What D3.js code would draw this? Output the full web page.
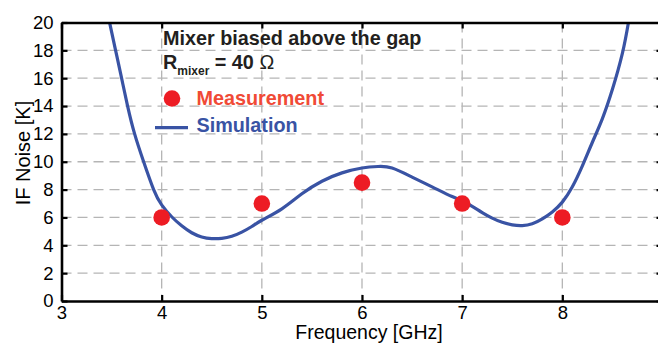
<!DOCTYPE html>
<html>
<head>
<meta charset="utf-8">
<script src="https://cdn.jsdelivr.net/npm/d3@7"></script>
<style>
  html, body { margin: 0; padding: 0; background: #fff; }
  svg { display: block; font-family: Arial, "Liberation Sans", Helvetica, sans-serif; }
</style>
</head>
<body>
<svg id="chart" width="658" height="346"></svg>
<script>
// ---- data ----
const xTicks = [3, 4, 5, 6, 7, 8, 9];
const yTicks = [0, 2, 4, 6, 8, 10, 12, 14, 16, 18, 20];
const measFreq = [4, 5, 6, 7, 8];
const measNoise = [6, 7, 8.5, 7, 6];
const simFreq = [3.48, 3.54, 3.60, 3.66, 3.73, 3.82, 3.92, 4.00, 4.10, 4.20, 4.30, 4.40, 4.50, 4.60, 4.70, 4.80, 4.90, 5.00, 5.20, 5.40, 5.60, 5.80, 6.00, 6.16, 6.30, 6.50, 6.70, 6.90, 7.00, 7.10, 7.20, 7.30, 7.40, 7.50, 7.60, 7.70, 7.80, 7.90, 8.00, 8.10, 8.20, 8.30, 8.40, 8.50, 8.60, 8.66];
const simNoise = [20, 18, 16, 14, 12, 10, 8, 6.9, 6.05, 5.4, 4.9, 4.6, 4.48, 4.5, 4.65, 4.95, 5.35, 5.8, 6.62, 7.7, 8.6, 9.2, 9.55, 9.66, 9.55, 8.9, 8.2, 7.5, 7.2, 6.8, 6.35, 5.95, 5.65, 5.47, 5.42, 5.55, 5.9, 6.4, 7.1, 8.2, 9.7, 11.4, 13.1, 15.2, 17.8, 20];
const titleText = "Mixer biased above the gap";
const xLabel = "Frequency [GHz]";
const yLabel = "IF Noise [K]";
const legendMeas = "Measurement";
const legendSim = "Simulation";

// ---- layout ----
const svg = d3.select("#chart");
const x = d3.scaleLinear().domain([3, 9]).range([61.5, 662.5]);
const y = d3.scaleLinear().domain([0, 20]).range([301, 22.5]);
const blue = "#3953a4", red = "#ed1c24";

// grid
const grid = svg.append("g").attr("stroke", "#b5b5b5").attr("stroke-width", 1.3).attr("stroke-dasharray", "10,6");
grid.selectAll("line.v").data(xTicks.filter(d => d > 3 && d < 9)).join("line")
  .attr("x1", d => x(d)).attr("x2", d => x(d)).attr("y1", y(20)).attr("y2", y(0));
grid.selectAll("line.h").data(yTicks.filter(d => d > 0 && d < 20)).join("line")
  .attr("x1", x(3)).attr("x2", x(9)).attr("y1", d => y(d)).attr("y2", d => y(d));

// clip
svg.append("clipPath").attr("id", "clip").append("rect")
  .attr("x", x(3)).attr("y", y(20)).attr("width", x(9) - x(3)).attr("height", y(0) - y(20));

// simulation curve
const simData = simFreq.map((f, i) => [f, simNoise[i]]);
svg.append("path").datum(simData)
  .attr("clip-path", "url(#clip)")
  .attr("fill", "none").attr("stroke", blue).attr("stroke-width", 3.2)
  .attr("stroke-linejoin", "round")
  .attr("d", d3.line().x(d => x(d[0])).y(d => y(d[1])).curve(d3.curveNatural));

// measurement dots
svg.selectAll("circle.m").data(measFreq.map((f, i) => [f, measNoise[i]])).join("circle")
  .attr("cx", d => x(d[0])).attr("cy", d => y(d[1])).attr("r", 8.3).attr("fill", red);

// axes
function styleAxis(g) {
  g.select(".domain").attr("stroke", "#000").attr("stroke-width", 2.6);
  g.selectAll(".tick line").attr("stroke", "#000").attr("stroke-width", 2.2);
  g.selectAll(".tick text").attr("fill", "#000").attr("font-size", "18.5px").attr("font-family", "Arial, 'Liberation Sans', sans-serif");
}
svg.append("g").attr("transform", `translate(0,${y(0)})`)
  .call(d3.axisBottom(x).tickValues(xTicks).tickFormat(d3.format("d")).tickSizeInner(-6).tickSizeOuter(0).tickPadding(4.5))
  .call(styleAxis);
svg.append("g").attr("transform", `translate(0,${y(20)})`)
  .call(d3.axisTop(x).tickValues(xTicks).tickFormat("").tickSizeInner(-6).tickSizeOuter(0))
  .call(styleAxis);
svg.append("g").attr("transform", `translate(${x(3)},0)`)
  .call(d3.axisLeft(y).tickValues(yTicks).tickFormat(d3.format("d")).tickSizeInner(-6).tickSizeOuter(0).tickPadding(8))
  .call(styleAxis);
svg.append("g").attr("transform", `translate(${x(9)},0)`)
  .call(d3.axisRight(y).tickValues(yTicks).tickFormat("").tickSizeInner(-6).tickSizeOuter(0))
  .call(styleAxis);

// axis titles
svg.append("text").attr("x", 369).attr("y", 339).attr("text-anchor", "middle")
  .attr("font-size", "19.5px").attr("fill", "#000").text(xLabel);
svg.append("text").attr("transform", "translate(30,153) rotate(-90)").attr("text-anchor", "middle")
  .attr("font-size", "20px").attr("fill", "#000").text(yLabel);

// annotation
svg.append("text").attr("x", 163).attr("y", 45).attr("font-size", "19.8px").attr("font-weight", "bold")
  .attr("fill", "#231f20").text(titleText);
const r = svg.append("text").attr("x", 163).attr("y", 68.5).attr("font-size", "19.8px").attr("font-weight", "bold").attr("fill", "#231f20");
r.append("tspan").text("R");
r.append("tspan").attr("font-size", "12px").attr("dy", 6).text("mixer");
r.append("tspan").attr("dy", -6).text(" = 40 ");
r.append("tspan").attr("font-weight", "normal").text("Ω");

// legend
svg.append("circle").attr("cx", 172).attr("cy", 98.5).attr("r", 8.3).attr("fill", red);
svg.append("text").attr("x", 196.5).attr("y", 105).attr("font-size", "19.8px").attr("font-weight", "bold")
  .attr("fill", "#f04a36").text(legendMeas);
svg.append("line").attr("x1", 155).attr("x2", 188).attr("y1", 127.7).attr("y2", 127.7)
  .attr("stroke", blue).attr("stroke-width", 3.2);
svg.append("text").attr("x", 196.5).attr("y", 132).attr("font-size", "19.8px").attr("font-weight", "bold")
  .attr("fill", blue).text(legendSim);
</script>
</body>
</html>
